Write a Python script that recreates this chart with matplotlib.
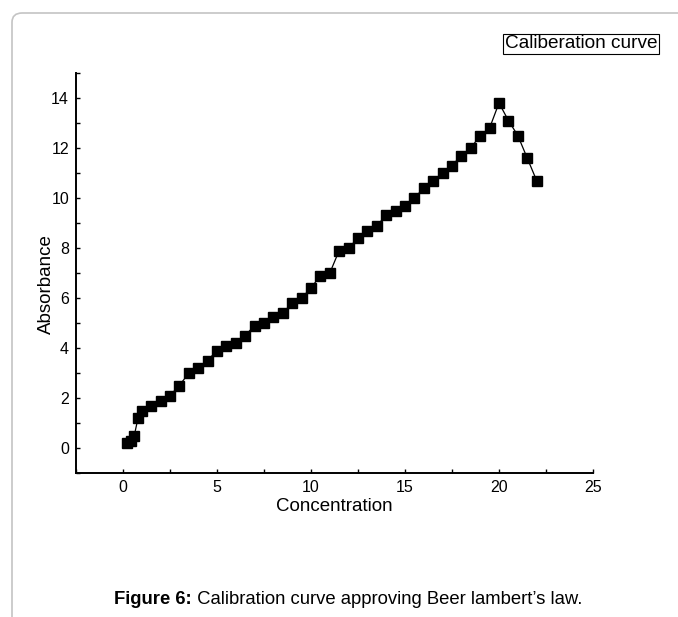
import matplotlib.pyplot as plt
from matplotlib.patches import FancyBboxPatch
from matplotlib.ticker import MultipleLocator

plt.rcParams['font.family'] = ['Liberation Sans', 'DejaVu Sans']

# concentration vs absorbance
conc = [0.2, 0.4, 0.6, 0.8, 1.0, 1.5, 2.0, 2.5, 3.0, 3.5, 4.0, 4.5, 5.0, 5.5,
        6.0, 6.5, 7.0, 7.5, 8.0, 8.5, 9.0, 9.5, 10.0, 10.5, 11.0, 11.5, 12.0,
        12.5, 13.0, 13.5, 14.0, 14.5, 15.0, 15.5, 16.0, 16.5, 17.0, 17.5, 18.0,
        18.5, 19.0, 19.5, 20.0, 20.5, 21.0, 21.5, 22.0]
absorb = [0.2, 0.3, 0.5, 1.2, 1.5, 1.7, 1.9, 2.1, 2.5, 3.0, 3.2, 3.5, 3.9, 4.1,
          4.2, 4.5, 4.9, 5.0, 5.25, 5.4, 5.8, 6.0, 6.4, 6.9, 7.0, 7.9, 8.0,
          8.4, 8.7, 8.9, 9.3, 9.5, 9.7, 10.0, 10.4, 10.7, 11.0, 11.3, 11.7,
          12.0, 12.5, 12.8, 13.8, 13.1, 12.5, 11.6, 10.7]

fig = plt.figure(figsize=(6.78, 6.17), dpi=100)

# light page frame (top and left edges, rounded corner)
frame = FancyBboxPatch((12 / 678, -0.1), 1.2, 1.1 - 13 / 617,
                       boxstyle='round,pad=0,rounding_size=0.015',
                       transform=fig.transFigure, fill=False,
                       edgecolor='#c4c4c4', linewidth=1.2)
fig.patches.append(frame)

ax = fig.add_axes([76 / 678, 1 - 473 / 617, (593 - 76) / 678, (473 - 73) / 617])
ax.plot(conc, absorb, color='black', linewidth=0.9, marker='s',
        markersize=6.5, markerfacecolor='black', markeredgecolor='black')

ax.set_xlim(-2.5, 25)
ax.set_ylim(-1, 15)
ax.xaxis.set_major_locator(MultipleLocator(5))
ax.xaxis.set_minor_locator(MultipleLocator(2.5))
ax.yaxis.set_major_locator(MultipleLocator(2))
ax.yaxis.set_minor_locator(MultipleLocator(1))
ax.tick_params(which='both', direction='in', length=3, width=1, labelsize=11.5, pad=5)

for s in ['top', 'right']:
    ax.spines[s].set_visible(False)
for s in ['left', 'bottom']:
    ax.spines[s].set_linewidth(1.4)

ax.set_xlabel('Concentration', fontsize=13.5, labelpad=2)
ax.set_ylabel('Absorbance', fontsize=13.5)
ax.yaxis.set_label_coords(-0.04, (473 - 284) / 400)

fig.text(581 / 678, 1 - 44 / 617, 'Caliberation curve', fontsize=13.7,
         ha='center', va='center',
         bbox=dict(boxstyle='square,pad=0.1', facecolor='white',
                   edgecolor='black', linewidth=0.8))

cap_bold = fig.text(0, 0, 'Figure 6:', fontsize=13.3, fontweight='bold', va='center')
cap_rest = fig.text(0, 0, ' Calibration curve approving Beer lambert\u2019s law.',
                    fontsize=13.3, va='center')

# centre the two-part caption
fig.canvas.draw()
r = fig.canvas.get_renderer()
w1 = cap_bold.get_window_extent(r).width
w2 = cap_rest.get_window_extent(r).width
W = fig.bbox.width
x0 = 348 - (w1 + w2) / 2
y = 1 - 600 / 617
cap_bold.set_position((x0 / W, y))
cap_rest.set_position(((x0 + w1) / W, y))

fig.savefig('out.png', dpi=100)
